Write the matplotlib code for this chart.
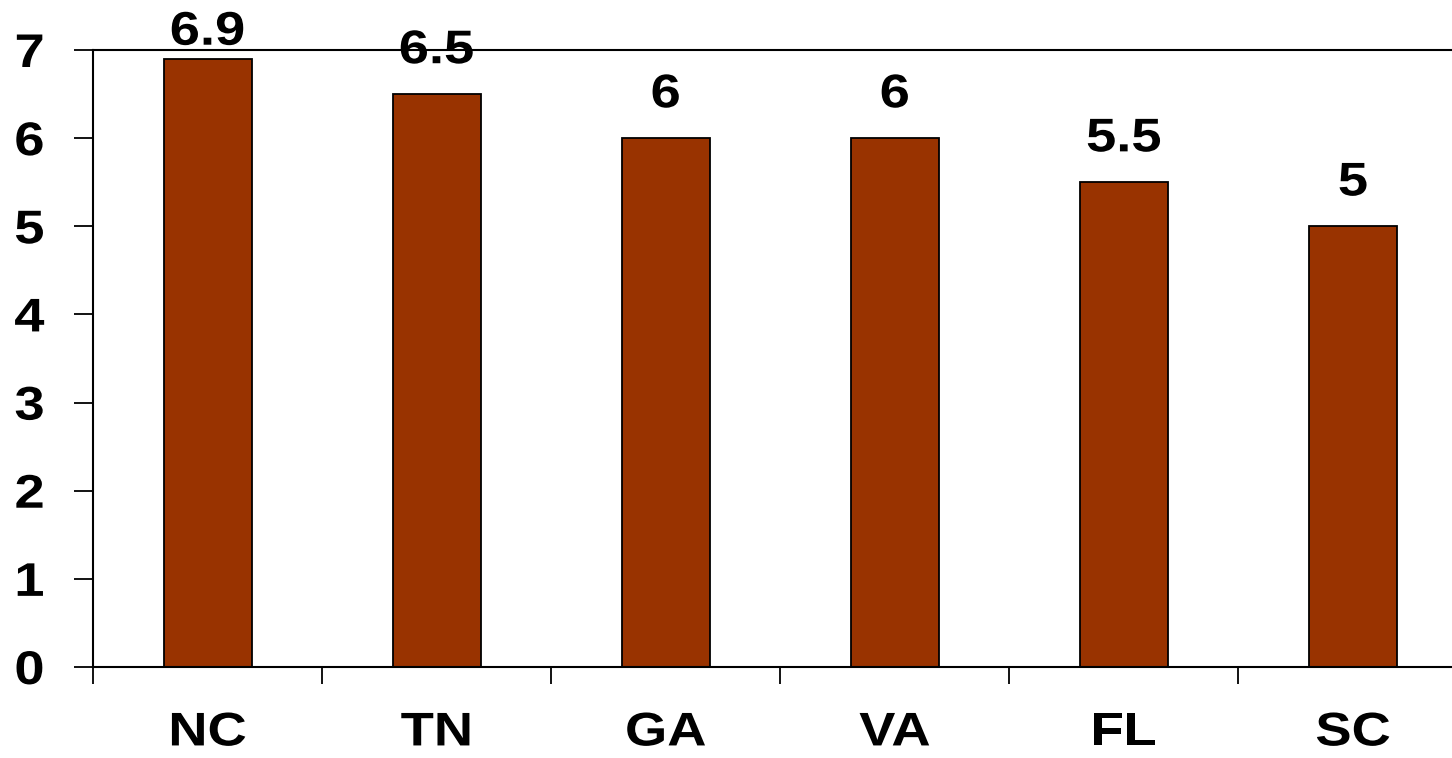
import matplotlib
matplotlib.use("Agg")
import matplotlib.pyplot as plt
from matplotlib import patheffects
from matplotlib.transforms import Affine2D

# Data
states = ["NC", "TN", "GA", "VA", "FL", "SC"]
values = [6.9, 6.5, 6.0, 6.0, 5.5, 5.0]
value_labels = ["6.9", "6.5", "6", "6", "5.5", "5"]
y_ticks = [0, 1, 2, 3, 4, 5, 6, 7]

BAR_COLOR = "#993300"
FONT = "Liberation Sans"
FS = 34


class Stretch(patheffects.AbstractPathEffect):
    """Widen glyphs horizontally about a chosen anchor."""

    def __init__(self, sx, anchor="center"):
        super().__init__()
        self.sx = sx
        self.anchor = anchor

    def draw_path(self, renderer, gc, tpath, affine, rgbFace=None):
        ext = tpath.get_extents(affine)
        if self.anchor == "right":
            x0 = ext.x1
        elif self.anchor == "left":
            x0 = ext.x0
        else:
            x0 = 0.5 * (ext.x0 + ext.x1)
        t = affine + Affine2D().translate(-x0, 0).scale(self.sx, 1).translate(x0, 0)
        renderer.draw_path(gc, tpath, t, rgbFace)


SX = 1.15

fig = plt.figure(figsize=(14.52, 7.58), dpi=100)
ax = fig.add_axes([93 / 1452, 91 / 758, 1 - 93 / 1452, 617 / 758])

x = list(range(len(states)))
ax.bar(x, values, width=0.384, color=BAR_COLOR, edgecolor="black", linewidth=1.3, zorder=2)

ax.set_ylim(0, 7)
ax.set_xlim(-0.497, 5.432)

ax.set_yticks(y_ticks)
ax.set_yticklabels([str(t) for t in y_ticks])
ax.set_xticks([i - 0.5 for i in range(len(states))])
ax.set_xticklabels([])
ax.set_xticks(x, minor=True)
ax.set_xticklabels(states, minor=True)

ax.tick_params(axis="y", direction="out", length=14, width=1.3, pad=21)
ax.tick_params(axis="x", which="major", direction="out", length=12, width=1.3)
ax.tick_params(axis="x", which="minor", length=0, pad=32)

for lbl in ax.get_yticklabels():
    lbl.set_fontfamily(FONT)
    lbl.set_fontweight("bold")
    lbl.set_fontsize(FS)
    lbl.set_path_effects([Stretch(SX, "right")])
for lbl in ax.get_xticklabels(minor=True):
    lbl.set_fontfamily(FONT)
    lbl.set_fontweight("bold")
    lbl.set_fontsize(FS)
    lbl.set_path_effects([Stretch(SX, "center")])

for side in ["left", "bottom", "top"]:
    ax.spines[side].set_linewidth(1.5)
ax.spines["right"].set_visible(False)

# Value labels above bars
for xi, v, txt in zip(x, values, value_labels):
    ax.text(xi, min(v + 0.35, 7.06), txt, ha="center", va="baseline",
            fontfamily=FONT, fontweight="bold", fontsize=FS, clip_on=False,
            path_effects=[Stretch(SX, "center")], zorder=3)

fig.savefig("out.png", dpi=100)
